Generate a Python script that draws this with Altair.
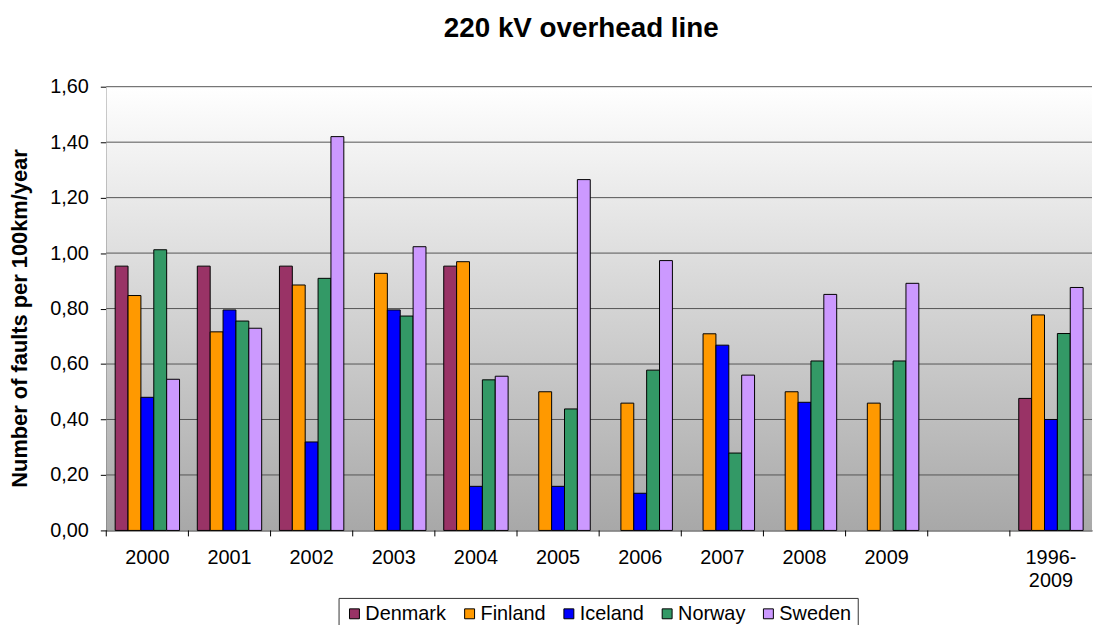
import altair as alt
import pandas as pd

title_text = "220 kV overhead line"
y_title = "Number of faults per 100km/year"
categories = ["2000", "2001", "2002", "2003", "2004", "2005", "2006",
              "2007", "2008", "2009", " ", "1996-2009"]
countries = ["Denmark", "Finland", "Iceland", "Norway", "Sweden"]
colors = ["#993366", "#FF9900", "#0000FF", "#339966", "#CC99FF"]

denmark = [0.953, 0.953, 0.953, None, 0.953, None, None, None, None, None, None, 0.476]
finland = [0.847, 0.716, 0.885, 0.927, 0.969, 0.500, 0.459, 0.709, 0.500, 0.459, None, 0.777]
iceland = [0.480, 0.795, 0.319, 0.795, 0.159, 0.159, 0.134, 0.668, 0.462, None, None, 0.400]
norway = [1.012, 0.755, 0.909, 0.773, 0.543, 0.438, 0.578, 0.279, 0.611, 0.611, None, 0.710]
sweden = [0.545, 0.729, 1.420, 1.023, 0.556, 1.265, 0.973, 0.560, 0.851, 0.891, None, 0.876]

y_ticks = [0.0, 0.2, 0.4, 0.6, 0.8, 1.0, 1.2, 1.4, 1.6]

rows = []
for country, vals in zip(countries, [denmark, finland, iceland, norway, sweden]):
    for cat, v in zip(categories, vals):
        if v is not None:
            rows.append({"Year": cat, "Country": country, "Value": v})
df = pd.DataFrame(rows)
tick_df = pd.DataFrame({"Year": categories})
grid_df = pd.DataFrame({"Value": y_ticks[1:]})
bg_df = pd.DataFrame({"k": [0]})

W, H = 993, 447
FONT = "Liberation Sans"

x_scale = alt.Scale(domain=categories, paddingInner=0, paddingOuter=0)
y_scale = alt.Scale(domain=[0, 1.6], nice=False)

background = alt.Chart(bg_df).mark_rect(
    fill=alt.LinearGradient(
        gradient="linear",
        stops=[alt.GradientStop(offset=0, color="#ffffff"),
               alt.GradientStop(offset=1, color="#a8a8a8")],
        x1=0, x2=0, y1=0, y2=1,
    ),
).encode(
    x=alt.value(0), x2=alt.value(W), y=alt.value(0), y2=alt.value(H),
)

grid = alt.Chart(grid_df).mark_rule(color="#555555", strokeWidth=1).encode(
    y=alt.Y("Value:Q", scale=y_scale),
)

bars = alt.Chart(df).mark_bar(stroke="black", strokeWidth=1).encode(
    x=alt.X(
        "Year:N", scale=x_scale, sort=categories,
        axis=alt.Axis(
            title=None, labelAngle=0, ticks=False, domain=True, domainColor="black",
            domainWidth=1, grid=False, labelFont=FONT, labelFontSize=20,
            labelColor="black", labelPadding=17, labelLineHeight=24,
            labelExpr="datum.value == '1996-2009' ? ['1996-', '2009'] : datum.value",
        ),
    ),
    xOffset=alt.XOffset(
        "Country:N",
        scale=alt.Scale(domain=countries, paddingInner=0, paddingOuter=0.69),
    ),
    y=alt.Y(
        "Value:Q",
        scale=y_scale,
        axis=alt.Axis(
            title=y_title, values=y_ticks,
            labelExpr="replace(format(datum.value, '.2f'), '.', ',')",
            labelFont=FONT, labelFontSize=20, labelColor="black", labelPadding=12,
            tickSize=6, tickColor="black", domainColor="black",
            grid=False,
            titleFont=FONT, titleFontSize=22, titleFontWeight="bold",
            titleColor="black", titlePadding=18, titleY=233,
        ),
    ),
    color=alt.Color(
        "Country:N",
        scale=alt.Scale(domain=countries, range=colors),
        legend=alt.Legend(
            title=None, orient="none", legendX=234, legendY=515,
            direction="horizontal", strokeColor="#333333", fillColor="white",
            padding=6, symbolType="square", symbolSize=100,
            symbolStrokeColor="black", symbolStrokeWidth=1, symbolOpacity=1,
            labelFont=FONT, labelFontSize=20, labelColor="black",
            labelOffset=1, columnPadding=13,
        ),
    ),
)

ticks = alt.Chart(tick_df).mark_rule(color="black", strokeWidth=1).encode(
    x=alt.X("Year:N", scale=x_scale, sort=categories, bandPosition=0),
    y=alt.value(H),
    y2=alt.value(H + 6),
)

chart = alt.layer(background, grid, bars, ticks).properties(
    width=W,
    height=H,
    title=alt.TitleParams(
        title_text, font=FONT, fontSize=28, fontWeight="bold", color="black",
        anchor="middle", dx=-18, offset=34,
    ),
    autosize=alt.AutoSizeParams(type="none"),
    padding={"left": 99, "top": 77, "right": 2, "bottom": 93},
).configure_view(
    strokeWidth=0,
)

chart.save("out.html", embed_options={"renderer": "svg", "actions": False})
